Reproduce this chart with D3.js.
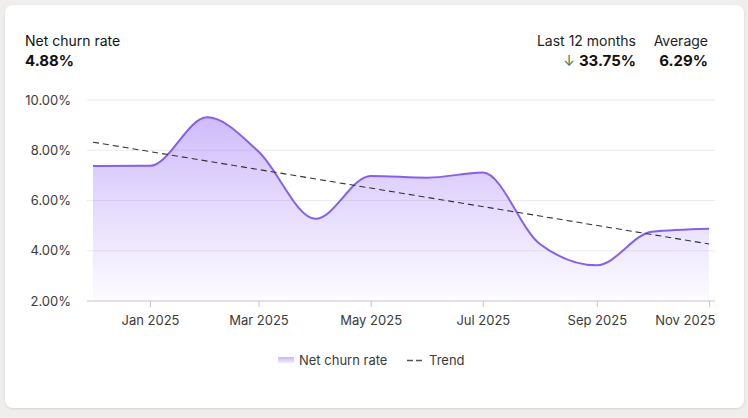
<!DOCTYPE html>
<html>
<head>
<meta charset="utf-8">
<script src="https://cdn.jsdelivr.net/npm/d3@7"></script>
<style>
  html, body { margin: 0; padding: 0; background: #efeeec; }
  svg { display: block; font-family: Inter, "Noto Sans", sans-serif; }
</style>
</head>
<body>
<svg id="chart" width="748" height="418"></svg>
<script>
// ---- data ----
const months = ["2024-12","2025-01","2025-02","2025-03","2025-04","2025-05","2025-06","2025-07","2025-08","2025-09","2025-10","2025-11"];
const churn = [7.37, 7.38, 9.31, 7.95, 5.27, 6.98, 6.91, 7.11, 4.27, 3.42, 4.76, 4.88];
const xTickLabels = ["2025-01","2025-03","2025-05","2025-07","2025-09","2025-11"];
const yTicks = [2, 4, 6, 8, 10];
const headerTitle = "Net churn rate";
const headerValue = "4.88%";
const changeLabel = "Last 12 months";
const changeValue = "33.75%";
const avgLabel = "Average";
const avgValue = "6.29%";
const legendLabels = ["Net churn rate", "Trend"];

const parse = d3.timeParse("%Y-%m");
const data = months.map((m, i) => ({ date: parse(m), v: churn[i] }));

const svg = d3.select("#chart");
const defs = svg.append("defs");

// card
const sh = defs.append("filter").attr("id", "shadow").attr("x", "-5%").attr("y", "-5%").attr("width", "110%").attr("height", "110%");
sh.append("feDropShadow").attr("dx", 0).attr("dy", 1).attr("stdDeviation", 1.2).attr("flood-color", "#000").attr("flood-opacity", 0.12);
svg.append("rect").attr("x", 5).attr("y", 5).attr("width", 739).attr("height", 403)
  .attr("rx", 8).attr("fill", "#fff").attr("filter", "url(#shadow)");

// scales
const x = d3.scaleTime().domain([data[0].date, data[data.length - 1].date]).range([93, 709]);
const y = d3.scaleLinear().domain([2, 10]).range([301, 100]);
const gridX0 = 87, gridX1 = 715;

// gradient
const grad = defs.append("linearGradient").attr("id", "areaGrad")
  .attr("gradientUnits", "userSpaceOnUse").attr("x1", 0).attr("x2", 0).attr("y1", y(10)).attr("y2", y(2));
grad.append("stop").attr("offset", "0%").attr("stop-color", "#8b5cf6").attr("stop-opacity", 0.45);
grad.append("stop").attr("offset", "100%").attr("stop-color", "#8b5cf6").attr("stop-opacity", 0.02);

const lgrad = defs.append("linearGradient").attr("id", "legGrad").attr("x1", 0).attr("x2", 0).attr("y1", 0).attr("y2", 1);
lgrad.append("stop").attr("offset", "0%").attr("stop-color", "#8b5cf6").attr("stop-opacity", 0.45);
lgrad.append("stop").attr("offset", "100%").attr("stop-color", "#8b5cf6").attr("stop-opacity", 0.12);

// grid
svg.append("g").selectAll("line").data(yTicks.filter(t => t !== 2)).join("line")
  .attr("x1", gridX0).attr("x2", gridX1)
  .attr("y1", d => y(d)).attr("y2", d => y(d))
  .attr("stroke", "#ebebeb").attr("stroke-width", 1);

// y labels
svg.append("g").selectAll("text").data(yTicks).join("text")
  .attr("x", 71).attr("y", d => y(d)).attr("dy", "0.35em")
  .attr("text-anchor", "end").attr("font-size", 13).attr("fill", "#3a3a3a")
  .text(d => d3.format(".2f")(d) + "%");

// area + line
const curve = d3.curveMonotoneX;
const area = d3.area().x(d => x(d.date)).y0(y(2)).y1(d => y(d.v)).curve(curve);
const line = d3.line().x(d => x(d.date)).y(d => y(d.v)).curve(curve);
svg.append("path").datum(data).attr("d", area).attr("fill", "url(#areaGrad)");
svg.append("path").datum(data).attr("d", line).attr("fill", "none")
  .attr("stroke", "#8660ea").attr("stroke-width", 2);

// trend (linear regression over time)
const xs = data.map(d => +d.date), ys = data.map(d => d.v);
const mx = d3.mean(xs), my = d3.mean(ys);
const slope = d3.sum(xs.map((xv, i) => (xv - mx) * (ys[i] - my))) / d3.sum(xs.map(xv => (xv - mx) ** 2));
const icpt = my - slope * mx;
const trend = [xs[0], xs[xs.length - 1]].map(t => ({ date: new Date(t), v: icpt + slope * t }));
svg.append("path").datum(trend)
  .attr("d", d3.line().x(d => x(d.date)).y(d => y(d.v)))
  .attr("fill", "none").attr("stroke", "#333").attr("stroke-width", 1.1).attr("stroke-dasharray", "6,4");

// x axis
svg.append("line").attr("x1", gridX0).attr("x2", gridX1).attr("y1", y(2)).attr("y2", y(2))
  .attr("stroke", "#c4c4c4").attr("stroke-width", 1);
const xAxis = d3.axisBottom(x).tickValues(xTickLabels.map(parse))
  .tickFormat(d3.timeFormat("%b %Y")).tickSize(6).tickSizeOuter(0).tickPadding(9);
const gx = svg.append("g").attr("transform", `translate(0,${y(2)})`).call(xAxis);
gx.select(".domain").remove();
gx.selectAll(".tick line").attr("stroke", "#c4c4c4");
gx.selectAll(".tick text").attr("font-size", 13).attr("fill", "#3a3a3a").attr("font-family", "Inter, sans-serif");
gx.selectAll(".tick").filter((d, i, n) => i === n.length - 1).select("text").attr("text-anchor", "end").attr("dx", "6");

// header
svg.append("text").attr("x", 25).attr("y", 46).attr("font-size", 14).attr("fill", "#111").text(headerTitle);
svg.append("text").attr("x", 25).attr("y", 66).attr("font-size", 15).attr("font-weight", 700).attr("fill", "#111").text(headerValue);
svg.append("text").attr("x", 636).attr("y", 46).attr("text-anchor", "end").attr("font-size", 14).attr("fill", "#222").text(changeLabel);
svg.append("text").attr("x", 708).attr("y", 46).attr("text-anchor", "end").attr("font-size", 14).attr("fill", "#222").text(avgLabel);
const chg = svg.append("text").attr("x", 636).attr("y", 66).attr("text-anchor", "end").attr("font-size", 15).attr("font-weight", 700).attr("fill", "#111");
chg.append("tspan").attr("fill", "#3d7a4c").attr("font-weight", 400).attr("font-size", 14).text("↓ ");
chg.append("tspan").text(changeValue);
svg.append("text").attr("x", 708).attr("y", 66).attr("text-anchor", "end").attr("font-size", 15).attr("font-weight", 700).attr("fill", "#111").text(avgValue);

// legend
const lg = svg.append("g");
lg.append("rect").attr("x", 278).attr("y", 357).attr("width", 16).attr("height", 6).attr("fill", "url(#legGrad)");
lg.append("text").attr("x", 299).attr("y", 365).attr("font-size", 13).attr("fill", "#3a3a3a").text(legendLabels[0]);
lg.append("line").attr("x1", 407).attr("x2", 424).attr("y1", 360.5).attr("y2", 360.5)
  .attr("stroke", "#555").attr("stroke-width", 1.5).attr("stroke-dasharray", "6,3");
lg.append("text").attr("x", 429).attr("y", 365).attr("font-size", 13).attr("fill", "#3a3a3a").text(legendLabels[1]);
</script>
</body>
</html>
